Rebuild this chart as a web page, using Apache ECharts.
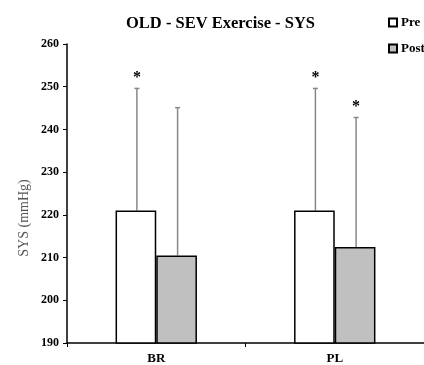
<!DOCTYPE html>
<html><head><meta charset="utf-8">
<script src="https://cdn.jsdelivr.net/npm/echarts@6/dist/echarts.min.js"></script>
<style>html,body{margin:0;padding:0;background:#fff}#c{width:424px;height:365px}</style>
</head><body><div id="c"></div>
<script>
var categories = ['BR', 'PL'];
var preValues = [221, 221];
var postValues = [210.5, 212.5];
var preErrTop = [249.6, 249.6];
var postErrTop = [245.1, 242.8];
var preSig = [true, true];
var postSig = [false, true];
var yTicks = [190, 200, 210, 220, 230, 240, 250, 260];

var FONT = '"Liberation Serif", "DejaVu Serif", serif';
var BARFRAC = 0.228;

function errSeries(name, vals, tops, sig, side) {
  var data = categories.map(function (c, i) { return [i, vals[i], tops[i], sig[i] ? 1 : 0]; });
  return {
    type: 'custom', name: name + ' err', z: 1,
    data: data,
    encode: { x: 0, y: [1, 2] },
    renderItem: function (params, api) {
      var i = api.value(0);
      var base = api.coord([i, api.value(1)]);
      var top = api.coord([i, api.value(2)]);
      var bandW = api.size([1, 0])[0];
      var bw = bandW * BARFRAC;
      var x = base[0] + side * bw / 2 + 1;
      var children = [
        { type: 'line', shape: { x1: x, y1: base[1], x2: x, y2: top[1] }, style: { stroke: '#888', lineWidth: 1.5 } },
        { type: 'line', shape: { x1: x - 2.5, y1: top[1], x2: x + 2.5, y2: top[1] }, style: { stroke: '#888', lineWidth: 1.5 } }
      ];
      if (api.value(3)) {
        children.push({ type: 'text', style: { text: '*', x: x, y: top[1] - 11, textAlign: 'center', textVerticalAlign: 'middle', font: 'bold 16px ' + FONT, fill: '#000' } });
      }
      return { type: 'group', children: children };
    }
  };
}

var chart = echarts.init(document.getElementById('c'));
chart.setOption({
  animation: false,
  title: {
    text: 'OLD - SEV Exercise - SYS', left: 121, top: 10,
    textStyle: { fontFamily: FONT, fontWeight: 'bold', fontSize: 16.5, color: '#000' }
  },
  legend: {
    orient: 'vertical', left: 383, top: 11, itemGap: 13, itemWidth: 8, itemHeight: 8,
    data: [{ name: 'Pre', icon: 'rect' }, { name: 'Post', icon: 'rect' }],
    textStyle: { fontFamily: FONT, fontWeight: 'bold', fontSize: 13, color: '#000', padding: [0, 0, 0, -1] }
  },
  graphic: [{
    type: 'text', x: 24, y: 218, rotation: Math.PI / 2,
    style: { text: 'SYS (mmHg)', font: '14px ' + FONT, fill: '#555', textAlign: 'center', textVerticalAlign: 'middle' }
  }],
  grid: { left: 67, right: -3, top: 44, bottom: 20 },
  xAxis: {
    type: 'category', data: categories,
    axisLine: { lineStyle: { color: '#000', width: 1.5 } },
    axisTick: { show: true, length: 4, lineStyle: { color: '#000' } },
    axisLabel: { fontFamily: FONT, fontWeight: 'bold', fontSize: 13, color: '#000', margin: 9 }
  },
  yAxis: {
    type: 'value', min: yTicks[0], max: yTicks[yTicks.length - 1], interval: 10,
    axisLine: { show: true, lineStyle: { color: '#000', width: 1.5 } },
    axisTick: { show: true, length: 4, lineStyle: { color: '#000' } },
    splitLine: { show: false },
    axisLabel: { fontFamily: FONT, fontWeight: 'bold', fontSize: 12, color: '#000', margin: 8 }
  },
  series: [
    { name: 'Pre', type: 'bar', data: preValues, barWidth: (BARFRAC * 100) + '%', barGap: '0%', z: 2,
      itemStyle: { color: '#fff', borderColor: '#000', borderWidth: 1.5 } },
    { name: 'Post', type: 'bar', data: postValues, barWidth: (BARFRAC * 100) + '%', barGap: '0%', z: 2,
      itemStyle: { color: '#c0c0c0', borderColor: '#000', borderWidth: 1.5 } },
    errSeries('Pre', preValues, preErrTop, preSig, -1),
    errSeries('Post', postValues, postErrTop, postSig, 1)
  ]
});
</script></body></html>
